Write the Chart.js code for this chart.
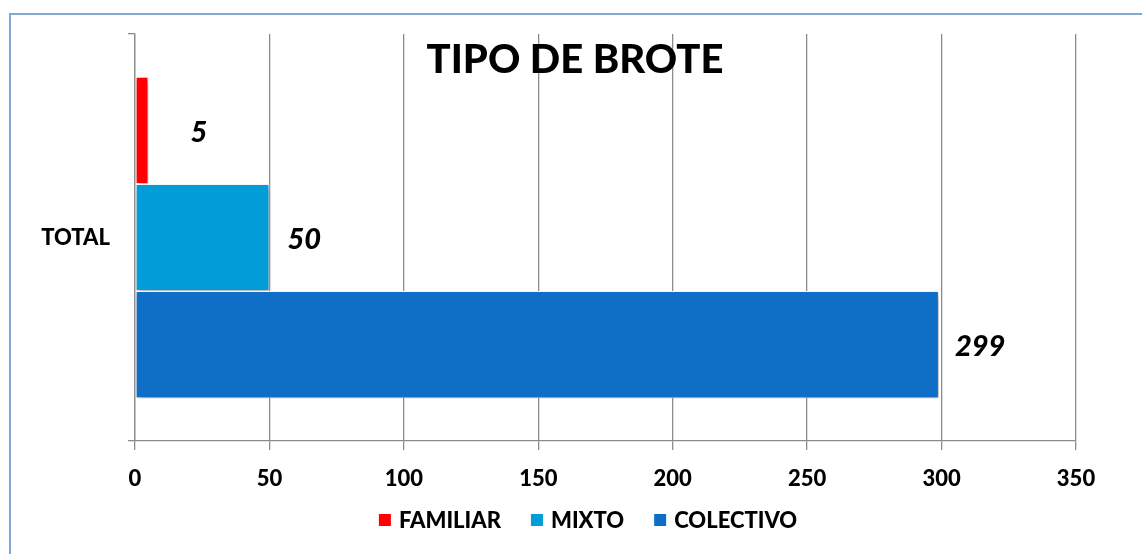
<!DOCTYPE html>
<html lang="es"><head>
<title>Tipo de brote</title>
<meta charset="utf-8">
<style type="text/css">
body   { margin:0; background-color:#ffffff; overflow:hidden; }
#frame { position:absolute; left:9px; top:13px; width:1200px; height:600px; border:2px solid #86a7d6; }
#brote { position:absolute; left:0; top:0; }
</style>
<script src="https://cdn.jsdelivr.net/npm/chart.js"></script>
<script>

// datos
var categories=["TOTAL"];
var seriesNames=["FAMILIAR","MIXTO","COLECTIVO"];
var familiar=[5];
var mixto=[50];
var colectivo=[299];
var xTicks=[0,50,100,150,200,250,300,350];

var colors=["#ff0000","#009dd9","#0f6fc6"];
var labelGap=[42,18,16];
var fontName="Lato";

function initChart() {
  var values=[familiar,mixto,colectivo]; var sets=[];
  for (i=0;i<seriesNames.length;i++) {
    sets.push({label:seriesNames[i],data:values[i],backgroundColor:colors[i],
      borderColor:'#ffffff',borderWidth:1,borderSkipped:false,
      categoryPercentage:0.79,barPercentage:1.0}); }

  config={type:'bar',data:{labels:categories,datasets:sets},
    options:{indexAxis:'y',responsive:false,animation:false,
      layout:{padding:{left:0,right:66,top:34,bottom:0}},
      scales:{
        x:{min:0,max:350,
          afterBuildTicks:function(s){s.ticks=xTicks.map(function(v){return {value:v};});},
          afterFit:function(s){s.height=113;},
          grid:{color:'#8c8c8c',lineWidth:1.3,tickLength:9,drawTicks:true},
          border:{color:'#8c8c8c',width:1.3},
          ticks:{color:'#000000',padding:16,font:{family:fontName,weight:900,size:22}}},
        y:{afterFit:function(s){s.width=135;},
          grid:{drawOnChartArea:false,color:'#8c8c8c',lineWidth:1.3,tickLength:7},
          border:{color:'#8c8c8c',width:1.3},
          ticks:{color:'#000000',padding:18,font:{family:fontName,weight:900,size:22}}}},
      plugins:{tooltip:{enabled:false},legend:{display:false}}},
    plugins:[shadowPlugin,labelPlugin,titlePlugin,legendPlugin]};

  new Chart(document.getElementById('brote'),config); }

var shadowPlugin={id:'shadow',
  beforeDatasetsDraw:function(chart) {
    var c=chart.ctx; c.save();
    c.shadowColor='rgba(0,0,0,0.35)'; c.shadowBlur=6; c.shadowOffsetX=2; c.shadowOffsetY=3; },
  afterDatasetsDraw:function(chart) { chart.ctx.restore(); }};

var labelPlugin={id:'valueLabels',
  afterDatasetsDraw:function(chart) {
    var c=chart.ctx; c.save();
    c.font='italic 900 29px '+fontName; c.fillStyle='#000000';
    c.textAlign='left'; c.textBaseline='middle';
    chart.data.datasets.forEach(function(ds,i) {
      var bar=chart.getDatasetMeta(i).data[0];
      c.fillText(String(ds.data[0]),bar.x+labelGap[i],bar.y+2); });
    c.restore(); }};

var titlePlugin={id:'innerTitle',
  afterDraw:function(chart) {
    var c=chart.ctx; c.save();
    c.font='900 40px '+fontName; c.fillStyle='#000000';
    c.textAlign='center'; c.textBaseline='middle';
    c.fillText('TIPO DE BROTE',chart.width/2+4,60);
    c.restore(); }};

// leyenda abajo, algo a la derecha del centro como en el original
var legendPlugin={id:'bottomLegend',
  afterDraw:function(chart) {
    var c=chart.ctx; c.save();
    c.font='900 22px '+fontName; c.textBaseline='middle'; c.textAlign='left';
    var box=12, gap=8, space=30, total=0, y=521;
    var ds=chart.data.datasets;
    ds.forEach(function(d,i) { total+=box+gap+c.measureText(d.label).width+(i<ds.length-1?space:0); });
    var x=chart.width/2+17-total/2;
    ds.forEach(function(d) {
      c.fillStyle=d.backgroundColor; c.fillRect(x,y-box/2-1,box,box);
      c.fillStyle='#000000'; c.fillText(d.label,x+box+gap,y);
      x+=box+gap+c.measureText(d.label).width+space; });
    c.restore(); }};

</script></head>
<body onload="initChart();">
<div id="frame"></div>
<canvas id="brote" width="1142" height="554"></canvas>
</body></html>
